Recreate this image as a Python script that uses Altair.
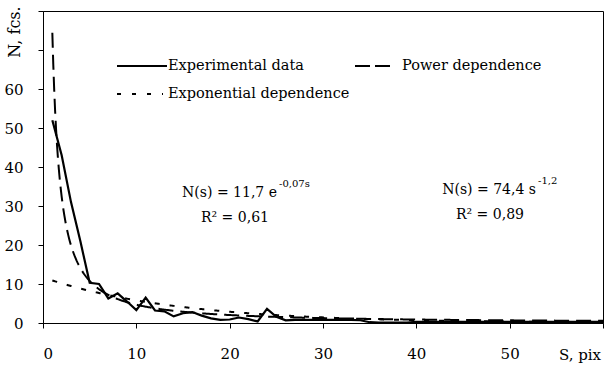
import altair as alt
import pandas as pd

# ---- data ----
s_values = list(range(1, 61))
n_values = [52, 43, 31, 21, 10.3, 10, 6.3, 7.6, 5.5, 3.3,
            6.5, 3.2, 3.0, 1.7, 2.5, 2.8, 1.9, 1.2, 0.8, 0.9,
            1.4, 1.0, 0.4, 3.6, 1.6, 0.7, 0.8, 0.8, 0.8, 0.8,
            0.8, 0.8, 0.8, 0.7, 0.2, 0.1, 0.1, 0.1, 0.1, 0.3,
            0.3, 0.3, 0.3, 0.3, 0.3, 0.3, 0.3, 0.3, 0.3, 0.3,
            0.3, 0.3, 0.3, 0.3, 0.3, 0.3, 0.3, 0.3, 0.3, 0.3]

# fitted trend lines as printed on the chart
power_a, power_b = 74.4, -1.2     # N(s) = 74,4 s^-1,2
exp_a, exp_b = 11.7, -0.07        # N(s) = 11,7 e^-0,07s

x_ticks = [0, 10, 20, 30, 40, 50, 60]
y_ticks = [0, 10, 20, 30, 40, 50, 60, 70, 80]

legend_labels = ["Experimental data", "Power dependence", "Exponential dependence"]

FONT = "DejaVu Serif"

df = pd.DataFrame({"s": s_values, "n": n_values})

x_scale = alt.Scale(domain=[0, 60], nice=False, zero=True)
y_scale = alt.Scale(domain=[0, 80], nice=False, zero=True)

x_axis = alt.Axis(values=x_ticks, title=None, grid=False, labelOverlap=False,
                  labelFont=FONT, labelFontSize=15, labelColor="black",
                  tickColor="black", domainColor="black", tickSize=5,
                  labelPadding=18,
                  labelExpr="datum.value == 60 ? '' : datum.label")
y_axis = alt.Axis(values=y_ticks, title=None, grid=False, labelOverlap=False,
                  labelFont=FONT, labelFontSize=15, labelColor="black",
                  tickColor="black", domainColor="black", tickSize=5,
                  labelPadding=15,
                  labelExpr="datum.value > 60 ? '' : datum.label")

data_line = alt.Chart(df).mark_line(color="black", strokeWidth=2.2).encode(
    x=alt.X("s:Q", scale=x_scale, axis=x_axis),
    y=alt.Y("n:Q", scale=y_scale, axis=y_axis),
)

curves = alt.Chart(alt.sequence(1, 60.05, 0.1, as_="s")).transform_calculate(
    power=f"{power_a}*pow(datum.s,{power_b})",
    expo=f"{exp_a}*exp({exp_b}*datum.s)",
)

power_line = curves.mark_line(color="black", strokeWidth=2, strokeDash=[15, 7]).encode(
    x=alt.X("s:Q", scale=x_scale, axis=x_axis),
    y=alt.Y("power:Q", scale=y_scale, axis=y_axis),
)
expo_line = curves.mark_line(color="black", strokeWidth=2, strokeDash=[5, 10]).encode(
    x=alt.X("s:Q", scale=x_scale, axis=x_axis),
    y=alt.Y("expo:Q", scale=y_scale, axis=y_axis),
)

one = pd.DataFrame({"k": [0]})
base = alt.Chart(one)

def rule(x1, x2, y, dash=None):
    kw = dict(color="black", strokeWidth=2)
    if dash:
        kw["strokeDash"] = dash
    return base.mark_rule(**kw).encode(x=alt.value(x1), x2=alt.value(x2), y=alt.value(y))

def text(t, x, y, size=14.5, align="left", angle=None):
    kw = dict(text=t, font=FONT, fontSize=size, color="black", align=align, baseline="middle")
    if angle is not None:
        kw["angle"] = angle
    return base.mark_text(**kw).encode(x=alt.value(x), y=alt.value(y))

legend = [
    rule(74, 124, 55),
    text(legend_labels[0], 125, 55),
    rule(312, 347, 55, [15, 5]),
    text(legend_labels[1], 359, 55),
    rule(74, 120, 83, [4, 11]),
    text(legend_labels[2], 125, 83),
]

annotations = [
    text("N(s) = 11,7 e", 234, 182, size=14, align="right"),
    text("-0,07s", 236, 173, size=10),
    text("R\u00b2 = 0,61", 192, 207, size=14, align="center"),
    text("N(s) = 74,4 s", 493, 179, size=14, align="right"),
    text("-1,2", 495, 170, size=10),
    text("R\u00b2 = 0,89", 447, 204, size=14, align="center"),
    text("N, fcs.", -28, 21, size=16, align="center", angle=270),
    text("S, pix", 537, 344, size=15, align="center"),
]

chart = alt.layer(data_line, power_line, expo_line, *legend, *annotations).properties(
    width=560,
    height=312,
    autosize=alt.AutoSizeParams(type="none"),
    padding={"left": 43, "top": 11, "right": 11, "bottom": 44},
).configure_view(stroke="black", strokeWidth=1)

chart.save("out.html", embed_options={"renderer": "svg", "actions": False})
